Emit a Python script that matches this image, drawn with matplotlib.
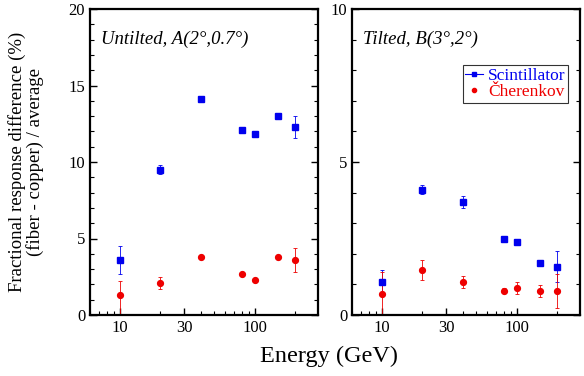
import matplotlib
matplotlib.use("Agg")
import matplotlib.pyplot as plt
from matplotlib.lines import Line2D
import numpy as np

plt.rcParams['font.family'] = ['Liberation Serif', 'DejaVu Serif']

energy = [10, 20, 40, 80, 100, 150, 200]

# Untilted, A(2°,0.7°)
scint_a = [3.6, 9.5, 14.1, 12.1, 11.8, 13.0, 12.3]
scint_a_err = [0.9, 0.3, 0.15, 0.15, 0.15, 0.15, 0.7]
cher_a = [1.3, 2.1, 3.8, 2.7, 2.3, 3.8, 3.6]
cher_a_err_lo = [1.3, 0.4, 0.1, 0.1, 0.1, 0.1, 0.8]
cher_a_err_hi = [0.95, 0.4, 0.1, 0.1, 0.1, 0.1, 0.8]

# Tilted, B(3°,2°)
scint_b = [1.07, 4.1, 3.7, 2.48, 2.38, 1.69, 1.58]
scint_b_err = [0.4, 0.15, 0.2, 0.08, 0.1, 0.08, 0.5]
cher_b = [0.69, 1.48, 1.08, 0.79, 0.87, 0.79, 0.79]
cher_b_err = [0.7, 0.32, 0.2, 0.08, 0.2, 0.2, 0.55]

ylims = [20, 10]
titles = ["Untilted, A(2°,0.7°)", "Tilted, B(3°,2°)"]
xminor = [6, 7, 8, 9, 20, 40, 50, 60, 70, 80, 90, 200]
series_labels = ['Scintillator', 'Čherenkov']
series_colors = ['#0000ee', '#ee0000']

fig = plt.figure(figsize=(5.84, 3.76), dpi=100)
ax1 = fig.add_axes([90/584, 61/376, 228/584, 306/376])
ax2 = fig.add_axes([352/584, 61/376, 228/584, 306/376])

datasets = [
    (ax1, scint_a, scint_a_err, cher_a, [cher_a_err_lo, cher_a_err_hi]),
    (ax2, scint_b, scint_b_err, cher_b, cher_b_err),
]

for i, (ax, s, se, c, ce) in enumerate(datasets):
    ax.errorbar(energy, s, yerr=se, fmt='s', color=series_colors[0], ms=4,
                elinewidth=0.6, capsize=1.2, capthick=0.6)
    ax.errorbar(energy, c, yerr=ce, fmt='o', color=series_colors[1], ms=4.2,
                elinewidth=0.6, capsize=1.2, capthick=0.6)
    ax.set_xscale('log')
    ax.set_xlim(6.0, 295)
    ax.set_ylim(0, ylims[i])
    ax.set_xticks([10, 30, 100])
    ax.set_xticklabels(['10', '30', '100'])
    ax.set_xticks(xminor, minor=True)
    ax.set_xticklabels([], minor=True)
    ax.set_yticks(np.arange(0, ylims[i] + 0.1, 5))
    ax.set_yticks(np.arange(0, ylims[i] + 0.1, 1), minor=True)
    ax.tick_params(which='both', direction='in', right=True, top=False, labelsize=12)
    ax.tick_params(which='major', length=5, width=1)
    ax.tick_params(which='minor', length=3, width=0.8)
    for sp in ax.spines.values():
        sp.set_linewidth(1.6)
    ax.text(0.05, 0.93, titles[i], transform=ax.transAxes, fontsize=13.5,
            style='italic', va='top', ha='left')

handles = [
    Line2D([], [], color=series_colors[0], marker='s', ms=3, lw=0.8, linestyle='-'),
    Line2D([], [], color=series_colors[1], marker='o', ms=3, lw=0, linestyle='none'),
]
leg = ax2.legend(handles, series_labels, loc='upper right', bbox_to_anchor=(0.947, 0.817),
                 fontsize=12.5, frameon=True, fancybox=False, edgecolor='black',
                 shadow=False, handlelength=1.0, handletextpad=0.3, borderpad=0.15,
                 labelspacing=0.0, borderaxespad=0.0)
leg.get_frame().set_linewidth(0.8)
for txt, col in zip(leg.get_texts(), series_colors):
    txt.set_color(col)

ax1.set_ylabel("Fractional response difference (%)\n(fiber - copper) / average",
               fontsize=13.5, linespacing=1.0)
ax1.yaxis.set_label_coords(-0.2, 0.5)
fig.text(329/584, 20/376, "Energy (GeV)", ha='center', va='center', fontsize=17.5)

fig.savefig("out.png", dpi=100)
